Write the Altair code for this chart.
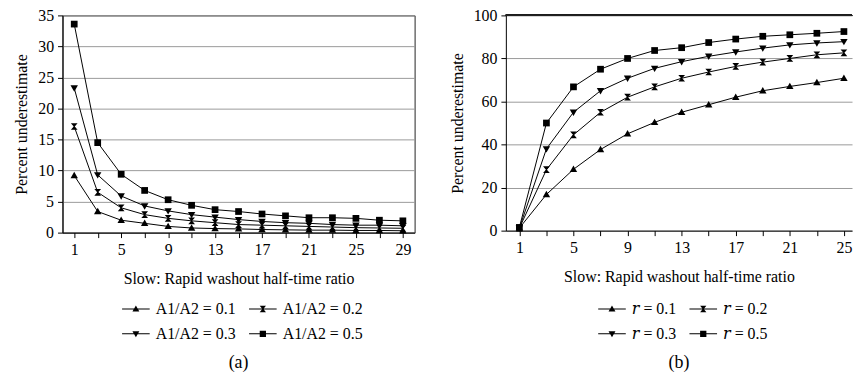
import altair as alt
import pandas as pd

# ---------------- data ----------------
x_a = [1, 3, 5, 7, 9, 11, 13, 15, 17, 19, 21, 23, 25, 27, 29]
a_01 = [9.2, 3.4, 2.0, 1.5, 1.0, 0.75, 0.65, 0.6, 0.5, 0.45, 0.4, 0.4, 0.35, 0.35, 0.3]
a_02 = [17.1, 6.5, 4.0, 2.9, 2.3, 1.9, 1.6, 1.3, 1.2, 1.1, 1.0, 0.9, 0.8, 0.75, 0.7]
a_03 = [23.3, 9.3, 5.9, 4.3, 3.5, 2.9, 2.5, 2.1, 1.8, 1.6, 1.5, 1.3, 1.2, 1.2, 1.1]
a_05 = [33.6, 14.5, 9.4, 6.8, 5.3, 4.4, 3.7, 3.4, 3.0, 2.7, 2.4, 2.4, 2.3, 2.0, 1.9]
labels_a = ["A1/A2 = 0.1", "A1/A2 = 0.2", "A1/A2 = 0.3", "A1/A2 = 0.5"]

x_b = [1, 3, 5, 7, 9, 11, 13, 15, 17, 19, 21, 23, 25]
r_01 = [1.2, 16.8, 28.5, 37.7, 45.0, 50.3, 55.0, 58.5, 62.0, 65.0, 67.0, 68.8, 70.8]
r_02 = [1.2, 28.3, 44.5, 55.0, 62.0, 66.8, 70.8, 73.7, 76.3, 78.3, 80.0, 81.7, 82.6]
r_03 = [1.2, 38.0, 55.0, 65.0, 70.8, 75.4, 78.5, 81.0, 83.0, 84.8, 86.3, 87.2, 87.8]
r_05 = [1.5, 50.0, 66.8, 75.0, 80.0, 83.7, 85.0, 87.4, 89.0, 90.3, 91.0, 91.7, 92.5]
labels_b = ["\U0001D45F = 0.1", "\U0001D45F = 0.2", "\U0001D45F = 0.3", "\U0001D45F = 0.5"]

x_title = "Slow: Rapid washout half-time ratio"
y_title = "Percent underestimate"


def to_long(xs, series, labels):
    rows = []
    for vals, lab in zip(series, labels):
        for xv, yv in zip(xs, vals):
            rows.append({"x": xv, "y": yv, "series": lab})
    return pd.DataFrame(rows)


df_a = to_long(x_a, [a_01, a_02, a_03, a_05], labels_a)
df_b = to_long(x_b, [r_01, r_02, r_03, r_05], labels_b)

FONT = "Liberation Serif, DejaVu Serif, serif"
tri_up = "M0,-1.1L1.1,0.8L-1.1,0.8Z"
hourglass = "M-1,-1L1,-1L0.15,0L1,1L-1,1L-0.15,0Z"
tri_down = "M-1.1,-0.8L1.1,-0.8L0,1.1Z"
square = "M-1,-1L1,-1L1,1L-1,1Z"
marker_paths = [tri_up, hourglass, tri_down, square]
legend_paths = ["M-4.4,-0.16L4.4,-0.16L4.4,0.16L-4.4,0.16Z" + p for p in marker_paths]


def panel(df, labels, xdom, xs, ydom, yvals, leg_x, leg_y, caption, width, height, left_frame):
    base = alt.Chart(df)
    x = alt.X("x:Q", scale=alt.Scale(domain=xdom, nice=False, zero=False),
              axis=alt.Axis(values=xs, grid=False, title=x_title,
                            labelExpr="(datum.value - 1) % 4 == 0 ? datum.label : ''"))
    y = alt.Y("y:Q", scale=alt.Scale(domain=ydom, nice=False),
              axis=alt.Axis(values=yvals, grid=True, title=y_title))
    lines = base.mark_line(color="black", strokeWidth=1).encode(x=x, y=y, detail="series:N")
    pts = base.mark_point(filled=True, color="black", opacity=1, size=46).encode(
        x=x, y=y,
        shape=alt.Shape("series:N", scale=alt.Scale(domain=labels, range=marker_paths), legend=None))
    leg = base.mark_point(filled=True, color="black", opacity=0).encode(
        x=x, y=y,
        shape=alt.Shape("series:N", scale=alt.Scale(domain=labels, range=legend_paths),
                        legend=alt.Legend(title=None, orient="none", legendX=leg_x, legendY=leg_y,
                                          columns=2, direction="horizontal", symbolSize=40,
                                          symbolOpacity=1, symbolFillColor="black",
                                          labelFont=FONT, labelFontSize=16, labelColor="black",
                                          labelOffset=12, columnPadding=10, rowPadding=9)))
    layers = [lines, pts, leg]
    if not left_frame:
        top = alt.Chart(df).mark_rule(color="#222", strokeWidth=1).encode(y=alt.datum(ydom[1]))
        layers.append(top)
    view = alt.ViewBackground(stroke="#222", strokeWidth=1) if left_frame else alt.ViewBackground(stroke=None)
    return alt.layer(*layers).resolve_scale(shape="independent").properties(
        width=width, height=height, view=view,
        title=alt.Title(caption, orient="bottom", font=FONT, fontSize=18, fontWeight="normal",
                        color="black", anchor="middle", frame="group", offset=12))


left = panel(df_a, labels_a, [0, 30], x_a, [0, 35], list(range(0, 36, 5)),
             66, 288, "(a)", 355, 219, True)
right = panel(df_b, labels_b, [0, 25.6], x_b, [0, 100], list(range(0, 101, 20)),
              99, 288, "(b)", 349, 217, False)

chart = alt.hconcat(left, right, spacing=34).resolve_scale(shape="independent").properties(
    padding={"left": 13, "top": 5, "right": 0, "bottom": 0}
).configure(font=FONT).configure_view(stroke=None).configure_axis(
    labelFont=FONT, labelFontSize=16, labelColor="black",
    titleFont=FONT, titleFontSize=16, titleFontWeight="normal", titleColor="black",
    domainColor="black", domainWidth=1, tickColor="black", tickSize=5, tickWidth=1,
    gridColor="#9a9a9a", gridWidth=1, labelPadding=4, titlePadding=8
).configure_axisX(titlePadding=13)

chart.save("out.html", embed_options={"renderer": "svg", "actions": False})
